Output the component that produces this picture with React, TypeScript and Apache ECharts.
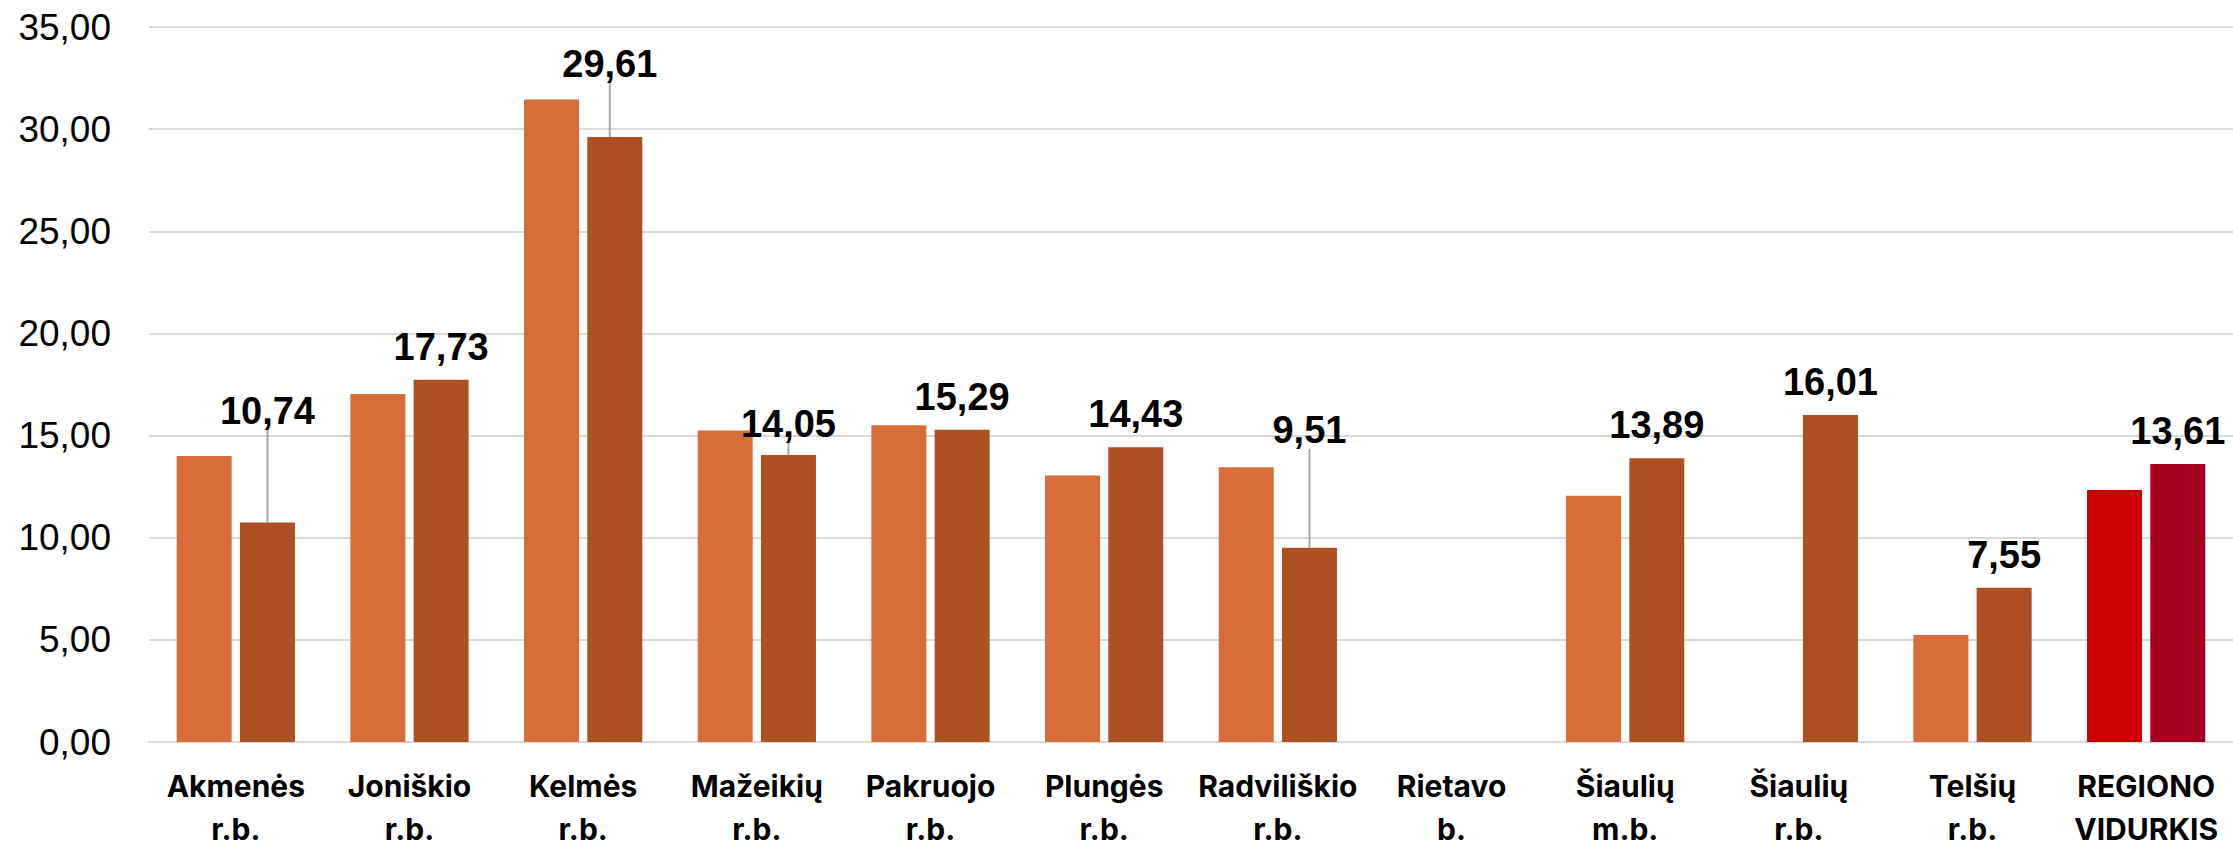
import React, { useEffect, useRef } from "react";
import * as echarts from "echarts";

const categories = [
  "Akmenės\nr.b.",
  "Joniškio\nr.b.",
  "Kelmės\nr.b.",
  "Mažeikių\nr.b.",
  "Pakruojo\nr.b.",
  "Plungės\nr.b.",
  "Radviliškio\nr.b.",
  "Rietavo\nb.",
  "Šiaulių\nm.b.",
  "Šiaulių\nr.b.",
  "Telšių\nr.b.",
  "REGIONO\nVIDURKIS",
];

const seriesPrev: (number | null)[] = [14.0, 17.03, 31.45, 15.25, 15.5, 13.05, 13.45, null, 12.05, null, 5.24, 12.33];
const seriesCurr: (number | null)[] = [10.74, 17.73, 29.61, 14.05, 15.29, 14.43, 9.51, null, 13.89, 16.01, 7.55, 13.61];

const yTicks = [0, 5, 10, 15, 20, 25, 30, 35];

// label offsets (moved labels with leader lines)
const labelShift: { [k: number]: [number, number] } = {
  0: [0, -79],
  2: [-5, -40],
  3: [0, 2],
  6: [0, -85],
};

const LIGHT = "#D76E3A";
const DARK = "#AD5123";
const AVG_LIGHT = "#CC0000";
const AVG_DARK = "#A50021";

export default function App() {
  const ref = useRef<HTMLDivElement>(null);
  useEffect(() => {
    document.body.style.margin = "0";
    const chart = echarts.init(ref.current!, null, { renderer: "svg" });
    const last = categories.length - 1;
    chart.setOption({
      animation: false,
      backgroundColor: "#ffffff",
      grid: { left: 149, right: 0, top: 27, bottom: 93, containLabel: false },
      xAxis: {
        type: "category",
        data: categories,
        axisTick: { show: false },
        axisLine: { show: true, lineStyle: { color: "#D9D9D9", width: 2 } },
        axisLabel: {
          interval: 0,
          color: "#000000",
          fontFamily: "Inter",
          fontWeight: "bold",
          fontSize: 30,
          lineHeight: 43,
          margin: 22,
        },
      },
      yAxis: {
        type: "value",
        min: yTicks[0],
        max: yTicks[yTicks.length - 1],
        interval: 5,
        axisLine: { show: false },
        axisTick: { show: false },
        splitLine: { lineStyle: { color: "#D9D9D9", width: 2 } },
        axisLabel: {
          color: "#000000",
          fontFamily: "Liberation Sans",
          fontSize: 37,
          margin: 38,
          formatter: (v: number) => v.toFixed(2).replace(".", ","),
        },
      },
      series: [
        {
          type: "bar",
          name: "prev",
          barWidth: 55,
          barGap: "15%",
          data: seriesPrev.map((v, i) => ({
            value: v,
            itemStyle: { color: i === last ? AVG_LIGHT : LIGHT },
          })),
        },
        {
          type: "bar",
          name: "curr",
          barWidth: 55,
          data: seriesCurr.map((v, i) => ({
            value: v,
            itemStyle: { color: i === last ? AVG_DARK : DARK },
            labelLine: { show: labelShift[i] !== undefined, lineStyle: { color: "#A6A6A6", width: 2 } },
          })),
          label: {
            show: true,
            position: "top",
            distance: 14,
            color: "#000000",
            fontFamily: "Liberation Sans",
            fontWeight: "bold",
            fontSize: 38,
            formatter: (p: any) => (p.value == null ? "" : Number(p.value).toFixed(2).replace(".", ",")),
          },
          labelLine: { show: false, lineStyle: { color: "#A6A6A6", width: 2 } },
          labelLayout: (p: any) => {
            const s = labelShift[p.dataIndex];
            if (!s) return {};
            return { dx: s[0], dy: s[1] };
          },
        },
      ],
    });
    return () => chart.dispose();
  }, []);
  return (
    <div
      ref={ref}
      style={{ position: "absolute", left: 0, top: 0, width: 2233, height: 850 }}
    />
  );
}
